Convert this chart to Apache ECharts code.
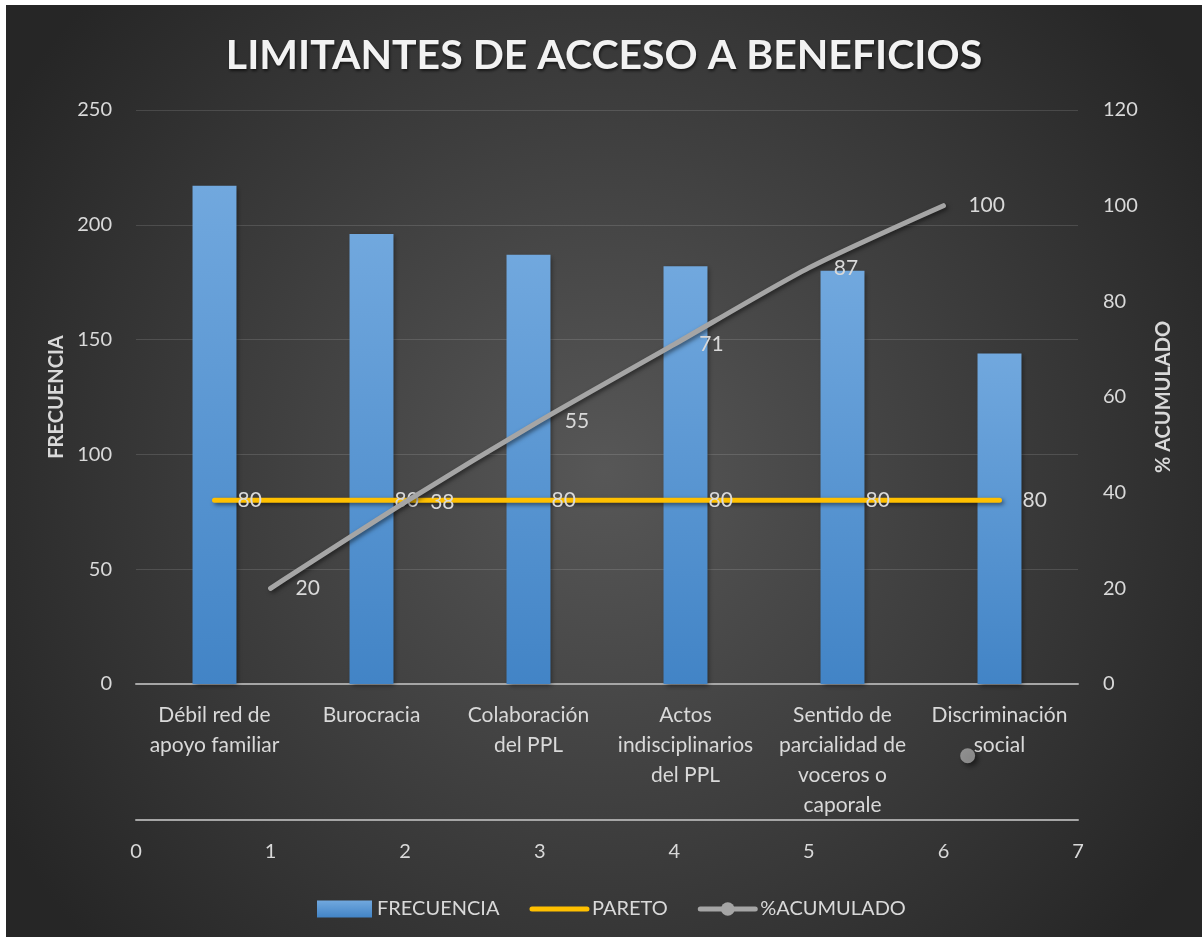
<!DOCTYPE html>
<html>
<head>
<meta charset="utf-8">
<script src="https://cdn.jsdelivr.net/npm/echarts@6/dist/echarts.min.js"></script>
<style>
html, body { margin: 0; background: #fff; }
#main { position: absolute; left: 6px; top: 5px; width: 1196px; height: 932px; }
</style>
</head>
<body>
<div id="main"></div>
<script>
var categories = ['Débil red de\napoyo familiar', 'Burocracia', 'Colaboración\ndel PPL',
  'Actos\nindisciplinarios\ndel PPL', 'Sentido de\nparcialidad de\nvoceros o\ncaporale', 'Discriminación\nsocial'];
var frecuencia = [217, 196, 187, 182, 180, 144];
var pareto = [80, 80, 80, 80, 80, 80];
var posicion = [1, 2, 3, 4, 5, 6];
var acumulado = [20, 38, 55, 71, 87, 100];
var puntoSuelto = [[6.18, -15]];

var txt = '#d9d9d9';
var font = 'Lato';

var acumData = posicion.map(function (p, i) { return [p, acumulado[i]]; });

option = {
  animation: false,
  backgroundColor: {
    type: 'radial', x: 0.5, y: 0.5, r: 0.75,
    colorStops: [{ offset: 0, color: '#575757' }, { offset: 1, color: '#262626' }]
  },
  title: {
    text: 'LIMITANTES DE ACCESO A BENEFICIOS',
    left: 'center',
    top: 25,
    textStyle: {
      color: '#f2f2f2', fontFamily: font, fontWeight: 'bold', fontSize: 41,
      textShadowColor: 'rgba(0,0,0,0.6)', textShadowBlur: 3, textShadowOffsetX: 1, textShadowOffsetY: 2
    }
  },
  legend: {
    left: 306,
    top: 889,
    itemWidth: 55,
    itemHeight: 17,
    itemGap: 30,
    textStyle: { color: txt, fontFamily: font, fontSize: 20 },
    data: [
      { name: 'FRECUENCIA', icon: 'rect' },
      { name: 'PARETO', lineStyle: { width: 5, cap: 'round' } },
      { name: '%ACUMULADO', itemStyle: { color: '#a5a5a5' }, lineStyle: { width: 5, cap: 'round' } }
    ]
  },
  grid: { left: 130, right: 124, top: 105, bottom: 253, outerBoundsMode: 'none' },
  xAxis: [{
    type: 'category',
    data: categories,
    axisTick: { show: false },
    axisLine: { lineStyle: { color: '#a6a6a6', width: 2 } },
    axisLabel: { interval: 0, color: txt, fontFamily: font, fontSize: 21, lineHeight: 30, margin: 16 }
  }, {
    type: 'value',
    position: 'bottom',
    offset: 136,
    min: 0, max: 7, interval: 1,
    axisTick: { show: false },
    splitLine: { show: false },
    axisLine: { show: true, onZero: false, lineStyle: { color: '#a6a6a6', width: 2 } },
    axisLabel: { color: txt, fontFamily: font, fontSize: 20, margin: 22 }
  }],
  yAxis: [{
    type: 'value',
    min: 0, max: 250, interval: 50,
    name: 'FRECUENCIA',
    nameLocation: 'middle',
    nameGap: 68,
    nameRotate: 90,
    nameTextStyle: { color: txt, fontFamily: font, fontWeight: 'bold', fontSize: 20 },
    axisLine: { show: false },
    axisTick: { show: false },
    splitLine: { lineStyle: { color: 'rgba(255,255,255,0.13)', width: 1 } },
    axisLabel: { color: txt, fontFamily: font, fontSize: 20, margin: 24 }
  }, {
    type: 'value',
    position: 'right',
    min: 0, max: 120, interval: 20,
    name: '% ACUMULADO',
    nameLocation: 'middle',
    nameGap: 76,
    nameRotate: 90,
    nameTextStyle: { color: txt, fontFamily: font, fontWeight: 'bold', fontSize: 20 },
    axisLine: { show: false },
    axisTick: { show: false },
    splitLine: { show: false },
    axisLabel: { color: txt, fontFamily: font, fontSize: 20, margin: 25 }
  }],
  series: [{
    name: 'FRECUENCIA',
    type: 'bar',
    data: frecuencia,
    barWidth: '28%',
    itemStyle: {
      color: {
        type: 'linear', x: 0, y: 0, x2: 0, y2: 1,
        colorStops: [{ offset: 0, color: '#71a8de' }, { offset: 1, color: '#4284c6' }]
      },
      shadowColor: 'rgba(0,0,0,0.45)', shadowBlur: 5, shadowOffsetX: 2, shadowOffsetY: 2
    },
    emphasis: { disabled: true }
  }, {
    name: 'PARETO',
    type: 'line',
    data: pareto,
    z: 3,
    symbol: 'circle',
    symbolSize: 8,
    itemStyle: { color: 'rgba(0,0,0,0)' },
    lineStyle: {
      color: '#ffc000', width: 5, cap: 'round',
      shadowColor: 'rgba(0,0,0,0.5)', shadowBlur: 4, shadowOffsetX: 2, shadowOffsetY: 2
    },
    label: { show: true, position: 'right', distance: 19, color: txt, fontFamily: font, fontSize: 21 },
    emphasis: { disabled: true }
  }, {
    name: '%ACUMULADO',
    type: 'line',
    xAxisIndex: 1,
    yAxisIndex: 1,
    data: acumData,
    smooth: 0.25,
    z: 4,
    symbol: 'circle',
    symbolSize: 10,
    itemStyle: { color: 'rgba(0,0,0,0)' },
    lineStyle: {
      color: '#a5a5a5', width: 5, cap: 'round',
      shadowColor: 'rgba(0,0,0,0.5)', shadowBlur: 4, shadowOffsetX: 2, shadowOffsetY: 2
    },
    label: { show: true, position: 'right', distance: 20, color: txt, fontFamily: font, fontSize: 21 },
    emphasis: { disabled: true }
  }, {
    name: 'marcador',
    type: 'scatter',
    xAxisIndex: 1,
    yAxisIndex: 1,
    data: puntoSuelto,
    clip: false,
    symbolSize: 15,
    itemStyle: {
      color: '#a5a5a5',
      shadowColor: 'rgba(0,0,0,0.6)', shadowBlur: 5, shadowOffsetX: 3, shadowOffsetY: 3
    },
    emphasis: { disabled: true }
  }]
};

var myChart = echarts.init(document.getElementById('main'));
myChart.setOption(option);
</script>
</body>
</html>
